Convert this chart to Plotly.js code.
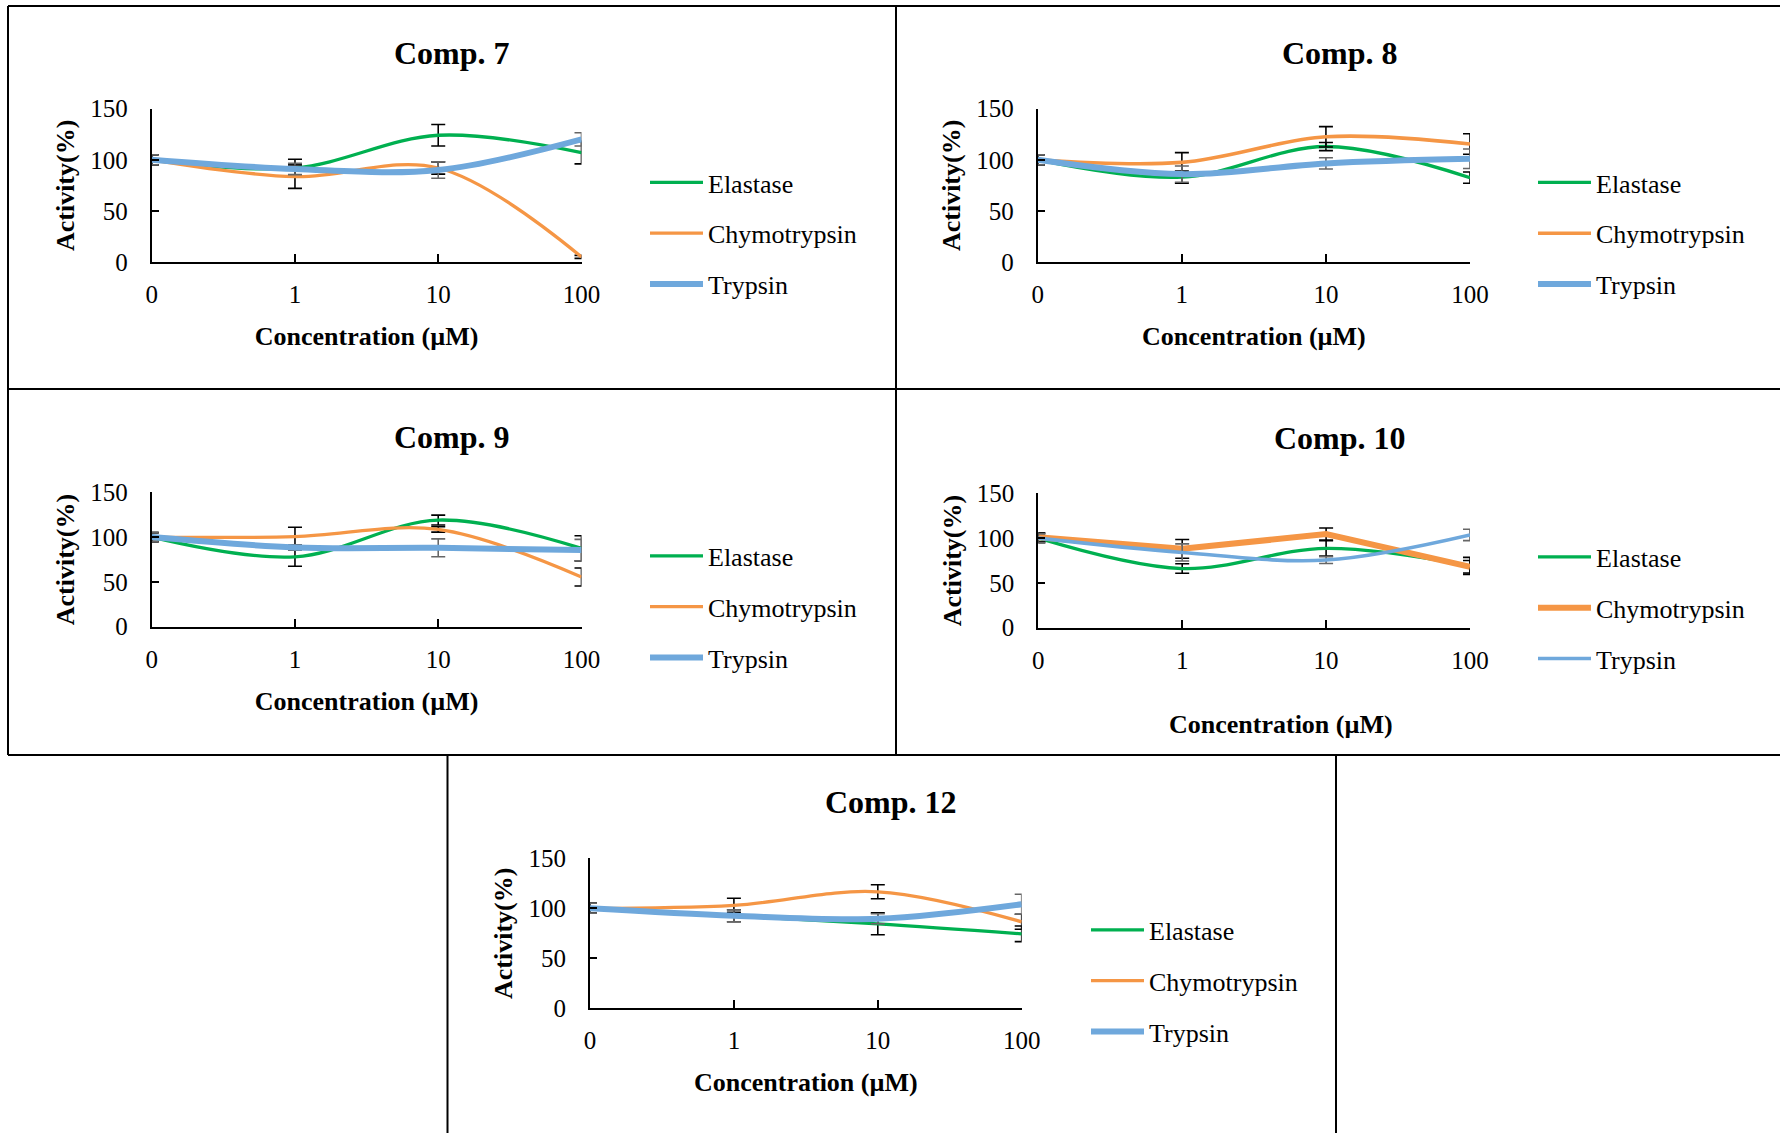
<!DOCTYPE html>
<html><head><meta charset="utf-8">
<script src="https://cdn.plot.ly/plotly-3.0.1.min.js"></script>
<style>html,body{margin:0;padding:0;background:#fff;}#chart{width:1780px;height:1133px;}</style>
</head><body><div id="chart"></div>
<script>
// ---------------- data ----------------
const concentrations = ['0', '1', '10', '100'];
const compounds = ['Comp. 7', 'Comp. 8', 'Comp. 9', 'Comp. 10', 'Comp. 12'];
const enzymes = ['Elastase', 'Chymotrypsin', 'Trypsin'];
const xAxisTitle = 'Concentration (µM)';
const yAxisTitle = 'Activity(%)';
const yTickValues = [0, 50, 100, 150];

const elastase7 = [100, 92, 124, 107];
const elastase7Err = [5, 8.5, 10.5, 11];
const chymotrypsin7 = [100, 83.5, 92, 5];
const chymotrypsin7Err = [5, 11.5, 6, 1.5];
const trypsin7 = [100, 91, 90, 120];
const trypsin7Err = [5, 5.5, 8, 6.5];

const elastase8 = [100, 83, 113, 82.5];
const elastase8Err = [5, 6, 4, 5.5];
const chymotrypsin8 = [100, 97.5, 122.5, 115.5];
const chymotrypsin8Err = [5, 9.5, 10, 10];
const trypsin8 = [100, 86, 96.5, 101];
const trypsin8Err = [5, 8, 5.5, 9.5];

const elastase9 = [100, 78, 119, 87.5];
const elastase9Err = [5, 10.5, 5.5, 14];
const chymotrypsin9 = [100, 100.5, 108.5, 55.5];
const chymotrypsin9Err = [5, 10.5, 3, 10];
const trypsin9 = [100, 88.5, 88, 85.5];
const trypsin9Err = [5, 3, 10, 12];

const elastase10 = [100, 66, 88.5, 69];
const elastase10Err = [5, 5.3, 8.5, 9.5];
const chymotrypsin10 = [101, 88, 104.5, 68];
const chymotrypsin10Err = [5, 10.5, 6.7, 7];
const trypsin10 = [100, 84, 75.5, 103.5];
const trypsin10Err = [5, 9.5, 3.8, 6.3];

const elastase12 = [100, 92.5, 84.5, 74.5];
const elastase12Err = [5, 6, 11, 7.8];
const chymotrypsin12 = [100, 103, 116.5, 86.5];
const chymotrypsin12Err = [5, 7, 7, 7.5];
const trypsin12 = [100, 92.5, 89.5, 104];
const trypsin12Err = [5, 6, 5, 10];

// ---------------- styling / layout ----------------
const W = 1780, H = 1133;
const fx = p => p / W;
const fy = p => 1 - p / H;
const FONT = 'Liberation Serif, Times New Roman, serif';
const colors = ['#00B050', '#F59645', '#6FA8DC'];
const errColors = ['#000000', '#000000', '#666666'];

const seriesByPanel = [
  [[elastase7, elastase7Err], [chymotrypsin7, chymotrypsin7Err], [trypsin7, trypsin7Err]],
  [[elastase8, elastase8Err], [chymotrypsin8, chymotrypsin8Err], [trypsin8, trypsin8Err]],
  [[elastase9, elastase9Err], [chymotrypsin9, chymotrypsin9Err], [trypsin9, trypsin9Err]],
  [[elastase10, elastase10Err], [chymotrypsin10, chymotrypsin10Err], [trypsin10, trypsin10Err]],
  [[elastase12, elastase12Err], [chymotrypsin12, chymotrypsin12Err], [trypsin12, trypsin12Err]]
];
const lineWidths = [
  [3.3, 3.3, 6], [3.3, 3.6, 6], [3.3, 3.3, 6], [3.3, 6, 3.6], [3.3, 3.3, 6]
];
const lineShapes = [
  ['spline', 'spline', 'spline'], ['spline', 'spline', 'spline'], ['spline', 'spline', 'spline'],
  ['spline', 'linear', 'spline'], ['spline', 'spline', 'spline']
];

const panels = [
  {x0: 151.7, x1: 581.5, yTop: 108.7, yBot: 262,   tx: 452.5,  ty: 53,    lx: 650,  ly: 233.5},
  {x0: 1037.8, x1: 1470, yTop: 108.7, yBot: 262,   tx: 1339.5, ty: 53,    lx: 1538, ly: 233.5},
  {x0: 151.7, x1: 581.5, yTop: 492.3, yBot: 626.7, tx: 452.5,  ty: 436.5, lx: 650,  ly: 607},
  {x0: 1038.3, x1: 1470, yTop: 493.3, yBot: 627.7, tx: 1339.5, ty: 437.5, lx: 1538, ly: 608},
  {x0: 590,   x1: 1021.7, yTop: 858.3, yBot: 1008.3, tx: 891,  ty: 802,   lx: 1091, ly: 981}
];

const traces = [];
const layout = {
  width: W, height: H,
  margin: {l: 0, r: 0, t: 0, b: 0},
  paper_bgcolor: '#ffffff', plot_bgcolor: '#ffffff',
  font: {family: FONT, color: '#000'},
  showlegend: true,
  annotations: [],
  shapes: []
};

panels.forEach((p, i) => {
  const n = i + 1;
  const xa = n === 1 ? 'x' : 'x' + n;
  const ya = n === 1 ? 'y' : 'y' + n;
  const lg = n === 1 ? 'legend' : 'legend' + n;
  seriesByPanel[i].forEach((s, k) => {
    traces.push({
      type: 'scatter', mode: 'lines',
      x: concentrations, y: s[0],
      name: enzymes[k],
      xaxis: xa, yaxis: ya, legend: lg,
      legendgroup: 'p' + n + 'g' + k,
      line: {color: colors[k], width: lineWidths[i][k], shape: lineShapes[i][k], smoothing: 1},
      error_y: {type: 'data', array: s[1], visible: true, color: errColors[k], thickness: 1.6, width: 7},
      hoverinfo: 'x+y+name'
    });
  });
  const xTitleAsAnnotation = (n === 4);
  layout['xaxis' + (n === 1 ? '' : n)] = {
    domain: [fx(p.x0), fx(p.x1)], anchor: ya,
    type: 'category', range: [0, 3],
    showline: true, linecolor: '#000', linewidth: 2,
    ticks: 'inside', ticklen: 8, tickwidth: 2, tickcolor: '#000',
    showgrid: false, zeroline: false,
    tickfont: {family: FONT, size: 25, color: '#000'},
    ticklabelstandoff: 9,
    title: xTitleAsAnnotation ? {text: ''} : {text: '<b>' + xAxisTitle + '</b>', font: {family: FONT, size: 26, color: '#000'}, standoff: 20}
  };
  layout['yaxis' + (n === 1 ? '' : n)] = {
    domain: [fy(p.yBot), fy(p.yTop)], anchor: xa,
    range: [0, 150], tickvals: yTickValues,
    showline: true, linecolor: '#000', linewidth: 2,
    ticks: 'inside', ticklen: 7, tickwidth: 2, tickcolor: '#000',
    showgrid: false, zeroline: false,
    tickfont: {family: FONT, size: 25, color: '#000'},
    ticklabelstandoff: 17,
    title: {text: '<b>' + yAxisTitle + '</b>', font: {family: FONT, size: 26, color: '#000'}, standoff: 8}
  };
  layout[lg] = {
    x: fx(p.lx - 5), xanchor: 'left',
    y: fy(p.ly), yanchor: 'middle',
    bgcolor: 'rgba(0,0,0,0)', borderwidth: 0,
    font: {family: FONT, size: 26, color: '#000'},
    itemwidth: 53, traceorder: 'grouped', tracegroupgap: 14
  };
  layout.annotations.push({
    xref: 'paper', yref: 'paper', x: fx(p.tx), y: fy(p.ty),
    xanchor: 'center', yanchor: 'middle', showarrow: false,
    text: '<b>' + compounds[i] + '</b>',
    font: {family: FONT, size: 32, color: '#000'}
  });
  if (xTitleAsAnnotation) {
    layout.annotations.push({
      xref: 'paper', yref: 'paper', x: fx(1281), y: fy(725),
      xanchor: 'center', yanchor: 'middle', showarrow: false,
      text: '<b>' + xAxisTitle + '</b>',
      font: {family: FONT, size: 26, color: '#000'}
    });
  }
});

// panel frames
const frameLines = [
  [8, 6, 1780, 6], [8, 389, 1780, 389], [8, 755, 1780, 755],
  [8, 6, 8, 755], [896, 6, 896, 755],
  [447.5, 755, 447.5, 1133], [1336, 755, 1336, 1133]
];
frameLines.forEach(l => {
  layout.shapes.push({type: 'line', xref: 'paper', yref: 'paper',
    x0: fx(l[0]), y0: fy(l[1]), x1: fx(l[2]), y1: fy(l[3]),
    line: {color: '#000', width: 2}});
});

Plotly.newPlot('chart', traces, layout, {displayModeBar: false, staticPlot: false});
</script>
</body></html>
